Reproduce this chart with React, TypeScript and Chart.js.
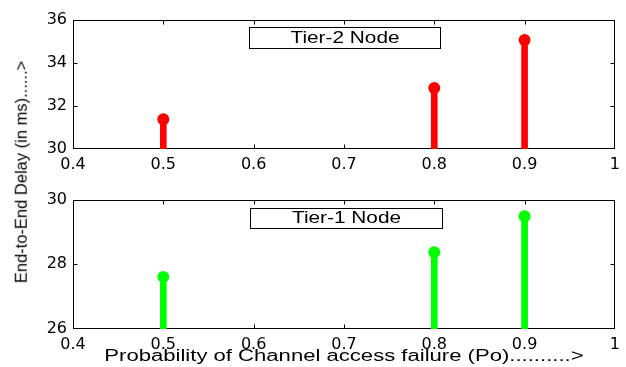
import React, { useEffect, useRef } from "react";
import { Chart, registerables } from "chart.js";

Chart.register(...registerables);

// ---- data ----
const probabilities = [0.5, 0.8, 0.9];
const tier2Delay = [31.38, 32.83, 35.05];
const tier1Delay = [27.61, 28.37, 29.48];
const xTickValues = [0.4, 0.5, 0.6, 0.7, 0.8, 0.9, 1];
const tier2YTicks = [30, 32, 34, 36];
const tier1YTicks = [26, 28, 30];
const tier2Label = "Tier-2 Node";
const tier1Label = "Tier-1 Node";
const xTitle = "Probability of Channel access failure (Po)..........>";
const yTitle = "End-to-End Delay (in ms)......>";

const TEXT_FONT = "'Liberation Sans', Arial, sans-serif";
const TICK_FONT = "DejaVu Sans";
const STRETCH = 1.3;
const TITLE_STRETCH = 1.38;

const framePlugin = {
  id: "frame",
  beforeDatasetsDraw(chart: any) {
    const { ctx, chartArea: a, scales } = chart;
    const L = Math.round(a.left) + 0.5;
    const R = Math.round(a.right) - 0.5;
    const T = Math.round(a.top) + 0.5;
    const B = Math.round(a.bottom) - 0.5;
    ctx.save();
    ctx.strokeStyle = "#000";
    ctx.lineWidth = 1;
    ctx.strokeRect(L, T, R - L, B - T);
    ctx.beginPath();
    const tl = 4;
    for (const t of scales.x.ticks) {
      const px = Math.round(scales.x.getPixelForValue(t.value)) + 0.5;
      if (px <= L + 1 || px >= R - 1) continue;
      ctx.moveTo(px, B);
      ctx.lineTo(px, B - tl);
      ctx.moveTo(px, T);
      ctx.lineTo(px, T + tl);
    }
    for (const t of scales.y.ticks) {
      const py = Math.round(scales.y.getPixelForValue(t.value)) + 0.5;
      if (py <= T + 1 || py >= B - 1) continue;
      ctx.moveTo(L, py);
      ctx.lineTo(L + tl, py);
      ctx.moveTo(R, py);
      ctx.lineTo(R - tl, py);
    }
    ctx.stroke();
    ctx.restore();
  },
  afterDraw(chart: any, _args: any, opts: any) {
    const { ctx, chartArea: a } = chart;
    ctx.save();
    if (opts && opts.box) {
      const b = opts.box;
      ctx.fillStyle = "#fff";
      ctx.fillRect(b.x, b.y, b.w, b.h);
      ctx.strokeStyle = "#000";
      ctx.lineWidth = 1;
      ctx.strokeRect(b.x, b.y, b.w, b.h);
      ctx.fillStyle = "#000";
      ctx.font = `16px ${TEXT_FONT}`;
      ctx.textAlign = "center";
      ctx.textBaseline = "middle";
      ctx.translate(b.x + b.w / 2, b.y + b.h / 2 + 0.5);
      ctx.scale(STRETCH, 1);
      ctx.fillText(opts.label, 0, 0);
      ctx.setTransform(1, 0, 0, 1, 0, 0);
    }
    if (opts && opts.xTitle) {
      ctx.fillStyle = "#000";
      ctx.font = `16px ${TEXT_FONT}`;
      ctx.textAlign = "center";
      ctx.textBaseline = "middle";
      ctx.translate((a.left + a.right) / 2, opts.xTitleY);
      ctx.scale(TITLE_STRETCH, 1);
      ctx.fillText(opts.xTitle, 0, 0);
    }
    ctx.restore();
  },
};

type PanelProps = {
  values: number[];
  yTicks: number[];
  color: string;
  label: string;
  height: number;
  xAxisHeight: number;
  box: { x: number; y: number; w: number; h: number };
  showXTitle?: boolean;
};

function Panel({ values, yTicks, color, label, height, xAxisHeight, box, showXTitle }: PanelProps) {
  const ref = useRef<HTMLCanvasElement | null>(null);
  useEffect(() => {
    if (!ref.current) return;
    const yMin = yTicks[0];
    const yMax = yTicks[yTicks.length - 1];
    const chart = new Chart(ref.current, {
      type: "bar",
      data: {
        datasets: [
          {
            type: "bar",
            data: probabilities.map((x, i) => ({ x, y: [yMin, values[i]] })) as any,
            backgroundColor: color,
            borderWidth: 0,
            barThickness: 6,
            order: 2,
          } as any,
          {
            type: "scatter",
            data: probabilities.map((x, i) => ({ x, y: values[i] })),
            backgroundColor: color,
            borderColor: color,
            borderWidth: 0,
            pointRadius: 6,
            pointHoverRadius: 6,
            order: 1,
            clip: false,
          } as any,
        ],
      },
      options: {
        animation: false,
        responsive: false,
        events: [],
        layout: { padding: { top: 19.5, right: 6, left: 0, bottom: 0 } },
        plugins: {
          legend: { display: false },
          tooltip: { enabled: false },
          frame: {
            box,
            label,
            xTitle: showXTitle ? xTitle : null,
            xTitleY: height - 10,
          },
        } as any,
        scales: {
          x: {
            type: "linear",
            min: xTickValues[0],
            max: xTickValues[xTickValues.length - 1],
            offset: false,
            grid: { display: false, drawTicks: false },
            border: { display: false },
            afterBuildTicks: (s: any) => {
              s.ticks = xTickValues.map((v) => ({ value: v }));
            },
            afterFit: (s: any) => {
              s.height = xAxisHeight;
            },
            ticks: {
              padding: 6,
              color: "#000",
              font: { family: TICK_FONT, size: 16 },
              maxRotation: 0,
              autoSkip: false,
              callback: (v: any) => String(v),
            },
          },
          y: {
            type: "linear",
            min: yMin,
            max: yMax,
            grid: { display: false, drawTicks: false },
            border: { display: false },
            afterBuildTicks: (s: any) => {
              s.ticks = yTicks.map((v) => ({ value: v }));
            },
            afterFit: (s: any) => {
              s.width = 73;
            },
            ticks: {
              padding: 6,
              color: "#000",
              font: { family: TICK_FONT, size: 16 },
              callback: (v: any) => String(v),
            },
          },
        } as any,
      },
      plugins: [framePlugin as any],
    });
    return () => chart.destroy();
  }, []);
  return <canvas ref={ref} width={626} height={height} style={{ display: "block" }} />;
}

export default function App() {
  return (
    <div
      style={{
        position: "absolute",
        left: 0,
        top: 0,
        width: 626,
        height: 367,
        background: "#fff",
        overflow: "hidden",
      }}
    >
      <div style={{ position: "absolute", left: 0, top: 0 }}>
        <Panel
          values={tier2Delay}
          yTicks={tier2YTicks}
          color="#ff0000"
          label={tier2Label}
          height={180}
          xAxisHeight={31}
          box={{ x: 249.5, y: 27.5, w: 191, h: 21 }}
        />
      </div>
      <div style={{ position: "absolute", left: 0, top: 180 }}>
        <Panel
          values={tier1Delay}
          yTicks={tier1YTicks}
          color="#00ff00"
          label={tier1Label}
          height={187}
          xAxisHeight={38}
          box={{ x: 250.5, y: 28.5, w: 192, h: 20 }}
          showXTitle
        />
      </div>
      <div
        style={{
          position: "absolute",
          left: 21,
          top: 172,
          transform: "translate(-50%, -50%) rotate(-90deg)",
          font: `16.5px ${TEXT_FONT}`,
          lineHeight: 1,
          whiteSpace: "nowrap",
          color: "#000",
        }}
      >
        {yTitle}
      </div>
    </div>
  );
}
